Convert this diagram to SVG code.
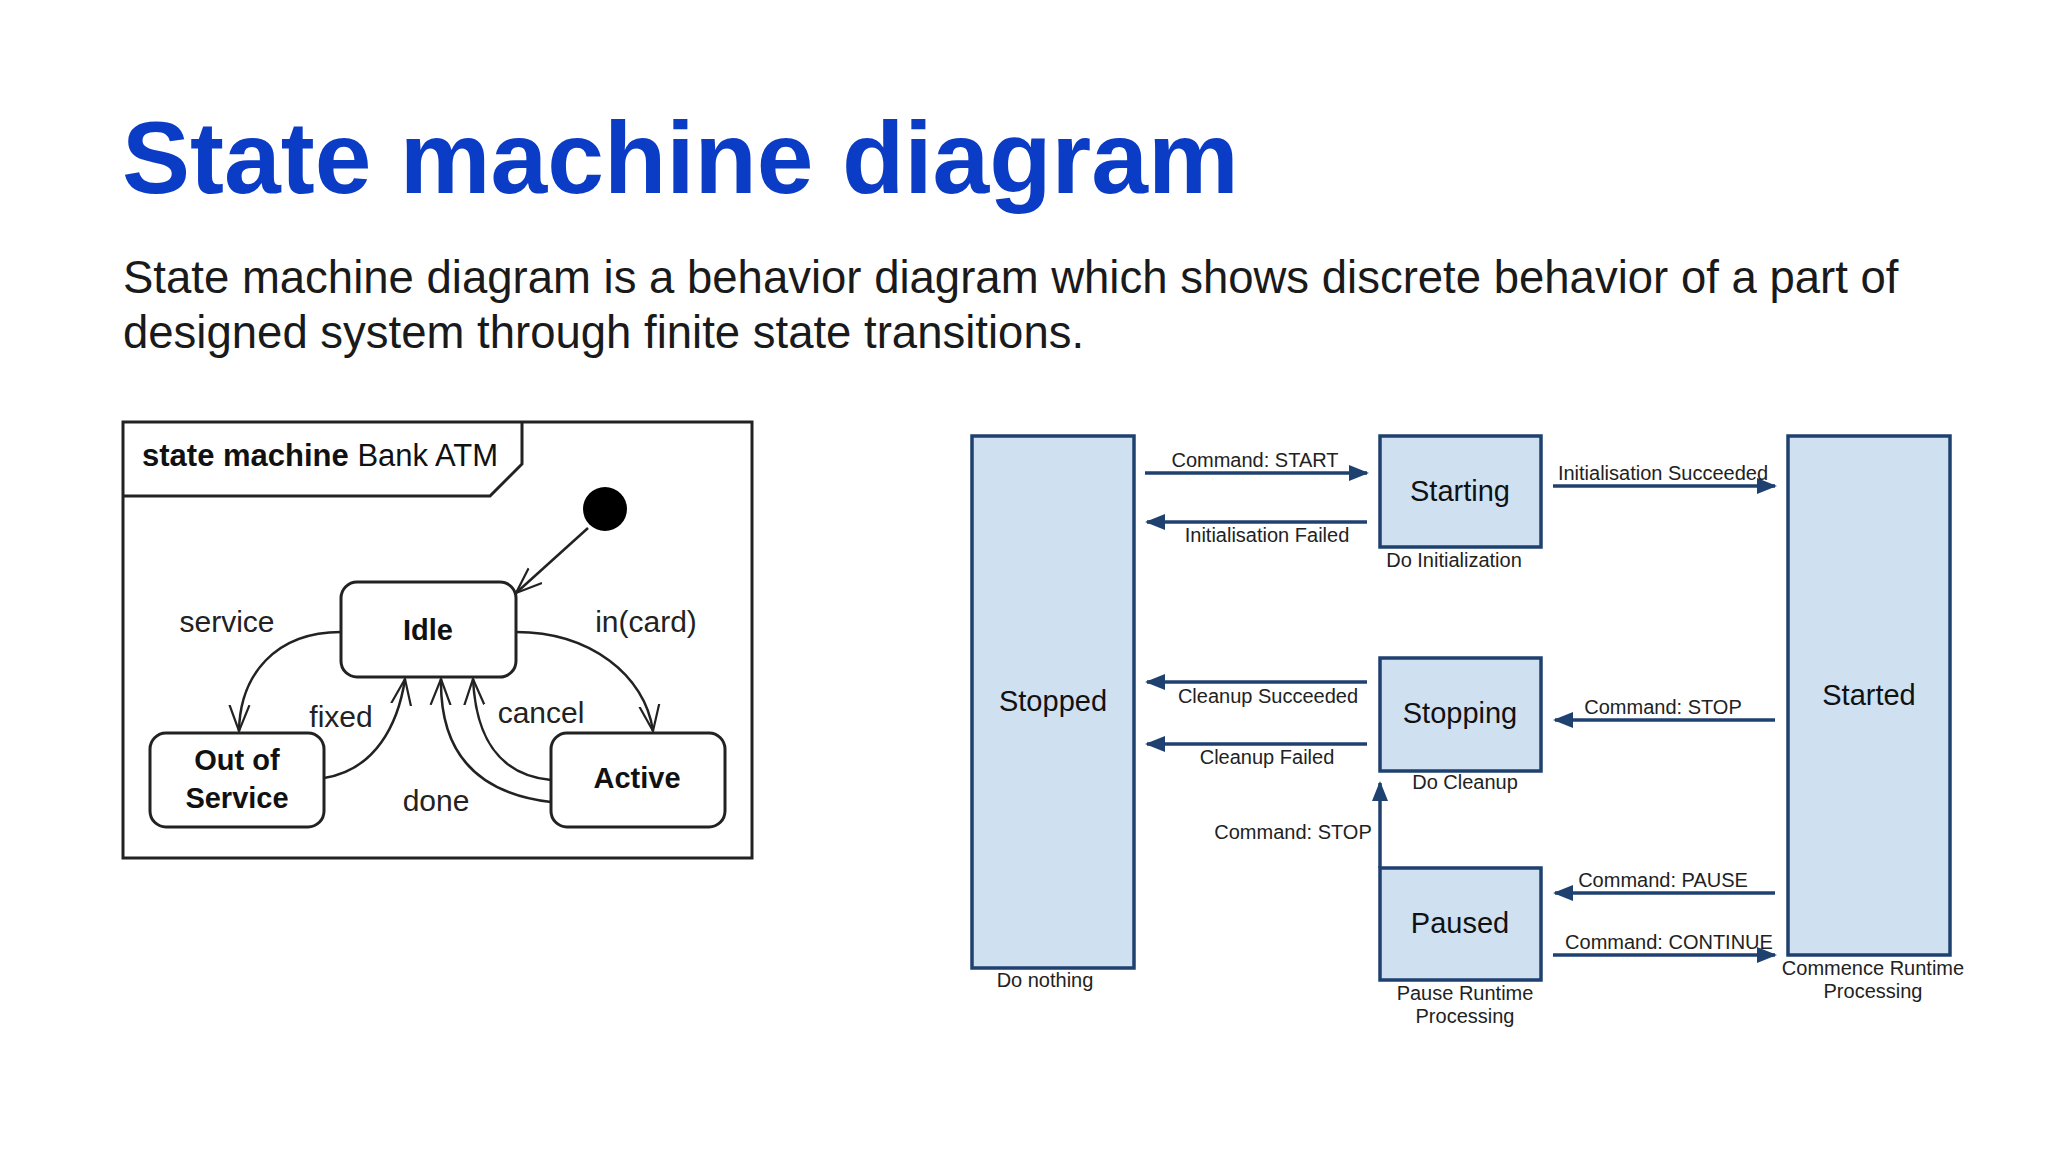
<svg xmlns="http://www.w3.org/2000/svg" width="2048" height="1152" viewBox="0 0 2048 1152">
<defs>
<style>
.t{font-family:"Liberation Sans",Arial,sans-serif}
.lbl{font-family:"Liberation Sans",Arial,sans-serif;font-size:30px;fill:#222;text-anchor:middle}
.st{fill:#fff;stroke:#222;stroke-width:3}
.ln{fill:none;stroke:#222;stroke-width:2.5}
.bx{fill:#cfe0f1;stroke:#1f4170;stroke-width:3.5}
.ar{stroke:#1f4170;stroke-width:3.5;fill:none}
.rl{font-family:"Liberation Sans",Arial,sans-serif;font-size:20px;fill:#222;text-anchor:middle}
.nm{font-family:"Liberation Sans",Arial,sans-serif;font-size:29px;fill:#111;text-anchor:middle}
</style>
<marker id="v" viewBox="0 0 28 24" refX="26" refY="12" markerWidth="28" markerHeight="24" markerUnits="userSpaceOnUse" orient="auto"><path d="M0,2 L26,12 L0,22" fill="none" stroke="#222" stroke-width="2.2"/></marker>
<marker id="f" viewBox="0 0 20 16" refX="18" refY="8" markerWidth="20" markerHeight="16" markerUnits="userSpaceOnUse" orient="auto"><path d="M0,0 L20,8 L0,16 Z" fill="#1f4170"/></marker>
</defs>
<rect width="2048" height="1152" fill="#fff"/>
<text class="t" x="122" y="193" font-size="102" font-weight="bold" fill="#0b3cc6">State machine diagram</text>
<text class="t" x="123" y="293" font-size="45.5" fill="#1a1a1a">State machine diagram is a behavior diagram which shows discrete behavior of a part of</text>
<text class="t" x="123" y="348" font-size="45.5" fill="#1a1a1a">designed system through finite state transitions.</text>

<g id="atm-frame">
<rect x="123" y="422" width="629" height="436" fill="#fff" stroke="#222" stroke-width="3"/>
<path d="M123,496 L490,496 L522,464 L522,422" fill="none" stroke="#222" stroke-width="3"/>
<text class="t" x="142" y="466" font-size="31" fill="#111"><tspan font-weight="bold">state machine</tspan> Bank ATM</text>
</g>
<g id="initial"><circle cx="605" cy="509" r="22" fill="#000"/></g>
<g id="idle"><rect class="st" x="341" y="582" width="175" height="95" rx="16"/><text class="nm" x="428" y="640" font-weight="bold">Idle</text></g>
<g id="oos"><rect class="st" x="150" y="733" width="174" height="94" rx="16"/><text class="nm" x="237" y="770" font-weight="bold">Out of</text><text class="nm" x="237" y="808" font-weight="bold">Service</text></g>
<g id="active"><rect class="st" x="551" y="733" width="174" height="94" rx="16"/><text class="nm" x="637" y="788" font-weight="bold">Active</text></g>
<g id="atm-connectors">
<path class="ln" d="M588,528 L516,593" marker-end="url(#v)"/>
<path class="ln" d="M341,632 C275,632 240,675 239,731" marker-end="url(#v)"/>
<path class="ln" d="M516,632 C590,632 645,675 653,731" marker-end="url(#v)"/>
<path class="ln" d="M324,778 C375,770 398,725 405,679" marker-end="url(#v)"/>
<path class="ln" d="M551,802 C465,792 440,740 441,679" marker-end="url(#v)"/>
<path class="ln" d="M551,780 C500,775 476,740 473,679" marker-end="url(#v)"/>
<text class="lbl" x="227" y="632">service</text>
<text class="lbl" x="646" y="632">in(card)</text>
<text class="lbl" x="341" y="727">fixed</text>
<text class="lbl" x="541" y="723">cancel</text>
<text class="lbl" x="436" y="811">done</text>
</g>

<g id="stopped"><rect class="bx" x="972" y="436" width="162" height="532"/><text class="nm" x="1053" y="711">Stopped</text><text class="rl" x="1045" y="987">Do nothing</text></g>
<g id="starting"><rect class="bx" x="1380" y="436" width="161" height="111"/><text class="nm" x="1460" y="501">Starting</text><text class="rl" x="1454" y="567">Do Initialization</text></g>
<g id="stopping"><rect class="bx" x="1380" y="658" width="161" height="113"/><text class="nm" x="1460" y="723">Stopping</text><text class="rl" x="1465" y="789">Do Cleanup</text></g>
<g id="paused"><rect class="bx" x="1380" y="868" width="161" height="112"/><text class="nm" x="1460" y="933">Paused</text><text class="rl" x="1465" y="1000">Pause Runtime</text><text class="rl" x="1465" y="1023">Processing</text></g>
<g id="started"><rect class="bx" x="1788" y="436" width="162" height="519"/><text class="nm" x="1869" y="705">Started</text><text class="rl" x="1873" y="975">Commence Runtime</text><text class="rl" x="1873" y="998">Processing</text></g>
<g id="connectors">
<path class="ar" d="M1145,473 L1367,473" marker-end="url(#f)"/>
<path class="ar" d="M1367,522 L1147,522" marker-end="url(#f)"/>
<path class="ar" d="M1553,486 L1775,486" marker-end="url(#f)"/>
<path class="ar" d="M1367,682 L1147,682" marker-end="url(#f)"/>
<path class="ar" d="M1367,744 L1147,744" marker-end="url(#f)"/>
<path class="ar" d="M1775,720 L1555,720" marker-end="url(#f)"/>
<path class="ar" d="M1380,868 L1380,783" marker-end="url(#f)"/>
<path class="ar" d="M1775,893 L1555,893" marker-end="url(#f)"/>
<path class="ar" d="M1553,955 L1775,955" marker-end="url(#f)"/>
<text class="rl" x="1255" y="467">Command: START</text>
<text class="rl" x="1267" y="542">Initialisation Failed</text>
<text class="rl" x="1663" y="480">Initialisation Succeeded</text>
<text class="rl" x="1268" y="703">Cleanup Succeeded</text>
<text class="rl" x="1267" y="764">Cleanup Failed</text>
<text class="rl" x="1663" y="714">Command: STOP</text>
<text class="rl" x="1293" y="839">Command: STOP</text>
<text class="rl" x="1663" y="887">Command: PAUSE</text>
<text class="rl" x="1669" y="949">Command: CONTINUE</text>
</g>
</svg>
